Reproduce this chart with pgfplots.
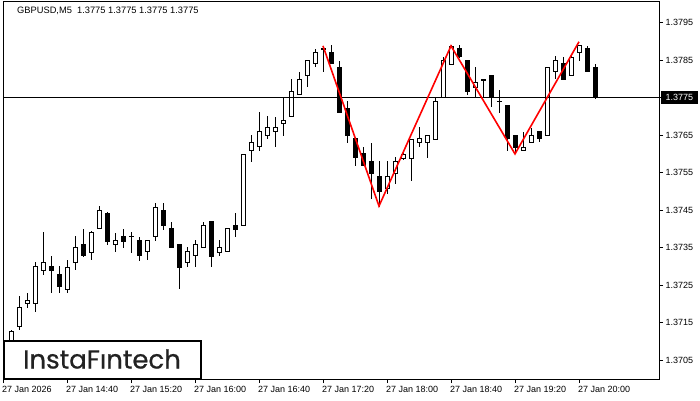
\documentclass[border=0pt]{standalone}
\usepackage{pgfplots}
\pgfplotsset{compat=1.18}
\usepackage{pgfplotstable}
\usepackage{fontspec}
\setmainfont{Liberation Sans}
\newfontfamily\logofont{Poppins}[FakeBold=0.6]
\definecolor{logogray}{HTML}{222222}

% bullish candles (close > open): x O H L C
\pgfplotstableread{
x O H L C
0 1.37085 1.37112 1.37070 1.37100
1 1.37085 1.37130 1.37075 1.37128
2 1.37141 1.37221 1.37130 1.37191
3 1.37202 1.37231 1.37191 1.37209
4 1.37201 1.37312 1.37179 1.37300
5 1.37289 1.37391 1.37277 1.37311
8 1.37240 1.37319 1.37229 1.37299
9 1.37311 1.37381 1.37290 1.37351
11 1.37339 1.37395 1.37317 1.37391
12 1.37401 1.37461 1.37400 1.37450
14 1.37359 1.37391 1.37339 1.37369
18 1.37340 1.37369 1.37317 1.37369
19 1.37381 1.37471 1.37368 1.37460
23 1.37311 1.37351 1.37299 1.37340
24 1.37329 1.37370 1.37299 1.37359
25 1.37351 1.37420 1.37351 1.37408
27 1.37340 1.37370 1.37328 1.37351
28 1.37340 1.37401 1.37340 1.37401
30 1.37409 1.37600 1.37409 1.37599
31 1.37609 1.37650 1.37579 1.37631
32 1.37620 1.37711 1.37608 1.37660
33 1.37649 1.37700 1.37640 1.37671
34 1.37660 1.37700 1.37619 1.37671
35 1.37681 1.37750 1.37647 1.37690
36 1.37700 1.37799 1.37700 1.37769
37 1.37758 1.37820 1.37758 1.37798
38 1.37809 1.37850 1.37779 1.37849
39 1.37841 1.37881 1.37831 1.37871
48 1.37510 1.37581 1.37495 1.37541
49 1.37549 1.37591 1.37519 1.37581
50 1.37590 1.37608 1.37583 1.37599
51 1.37590 1.37641 1.37527 1.37641
52 1.37631 1.37671 1.37619 1.37641
53 1.37631 1.37650 1.37590 1.37649
54 1.37641 1.37750 1.37641 1.37740
55 1.37752 1.37861 1.37752 1.37850
56 1.37841 1.37890 1.37841 1.37888
59 1.37779 1.37832 1.37750 1.37791
65 1.37609 1.37660 1.37609 1.37619
66 1.37631 1.37671 1.37631 1.37649
68 1.37649 1.37831 1.37649 1.37831
69 1.37820 1.37861 1.37801 1.37849
71 1.37809 1.37861 1.37809 1.37859
72 1.37871 1.37890 1.37848 1.37890
}\bull

% bearish candles (close <= open): x O H L C
\pgfplotstableread{
x O H L C
6 1.37300 1.37329 1.37229 1.37288
7 1.37279 1.37301 1.37231 1.37248
10 1.37359 1.37401 1.37326 1.37329
13 1.37441 1.37445 1.37359 1.37368
15 1.37381 1.37401 1.37350 1.37368
16 1.37380 1.37392 1.37338 1.37380
17 1.37370 1.37380 1.37317 1.37329
20 1.37449 1.37471 1.37400 1.37409
21 1.37401 1.37419 1.37351 1.37351
22 1.37359 1.37360 1.37240 1.37299
26 1.37420 1.37420 1.37299 1.37328
29 1.37409 1.37442 1.37379 1.37400
40 1.37881 1.37888 1.37819 1.37881
41 1.37871 1.37890 1.37841 1.37841
42 1.37831 1.37850 1.37711 1.37711
43 1.37722 1.37741 1.37630 1.37648
44 1.37642 1.37642 1.37568 1.37590
45 1.37600 1.37621 1.37568 1.37568
46 1.37581 1.37631 1.37481 1.37549
47 1.37541 1.37581 1.37459 1.37499
57 1.37881 1.37890 1.37855 1.37859
58 1.37850 1.37850 1.37758 1.37768
60 1.37798 1.37800 1.37750 1.37798
61 1.37809 1.37809 1.37727 1.37750
62 1.37741 1.37770 1.37710 1.37739
63 1.37729 1.37730 1.37608 1.37641
64 1.37649 1.37650 1.37600 1.37619
67 1.37660 1.37660 1.37631 1.37641
70 1.37841 1.37861 1.37798 1.37798
73 1.37881 1.37890 1.37820 1.37820
74 1.37831 1.37841 1.37748 1.37750
}\bear

\begin{document}
\begin{tikzpicture}[x=1pt,y=1pt]
\useasboundingbox (0,0) rectangle (700,400);
\begin{axis}[
  at={(3pt,21pt)}, anchor=south west,
  scale only axis, width=656pt, height=377pt,
  xmin=0, xmax=82, ymin=1.37, ymax=1.38005,
  axis line style={line width=1pt, black},
  tick align=outside, major tick length=4pt,
  tick style={line width=1pt, black},
  xtick pos=left, ytick pos=right, yticklabel pos=right,
  xtick={0,8,16,24,32,40,48,56,64,72},
  xticklabels={27 Jan 2026, 27 Jan 14:40, 27 Jan 15:20, 27 Jan 16:00, 27 Jan 16:40, 27 Jan 17:20, 27 Jan 18:00, 27 Jan 18:40, 27 Jan 19:20, 27 Jan 20:00},
  ytick={1.3705,1.3715,1.3725,1.3735,1.3745,1.3755,1.3765,1.3785,1.3795},
  yticklabels={1.3705,1.3715,1.3725,1.3735,1.3745,1.3755,1.3765,1.3785,1.3795},
  extra y ticks={1.3775}, extra y tick labels={1.3775},
  extra y tick style={yticklabel style={fill=black, text=white}},
  xticklabel style={font=\fontsize{9}{10}\selectfont, anchor=north west, inner sep=0pt, xshift=-1pt, yshift=-3pt},
  yticklabel style={font=\fontsize{9}{10}\selectfont, anchor=west, inner xsep=4.5pt, inner ysep=3pt, xshift=-2pt},
  clip=true,
]
% wicks
\addplot[draw=none, mark=none, forget plot, error bars/.cd, y dir=both, y explicit, error mark=none,
  error bar style={draw=black, line width=1pt}]
  table[x=x, y expr={(\thisrow{H}+\thisrow{L})/2}, y error expr={(\thisrow{H}-\thisrow{L})/2}] {\bull};
\addplot[draw=none, mark=none, forget plot, error bars/.cd, y dir=both, y explicit, error mark=none,
  error bar style={draw=black, line width=1pt}]
  table[x=x, y expr={(\thisrow{H}+\thisrow{L})/2}, y error expr={(\thisrow{H}-\thisrow{L})/2}] {\bear};
% bodies: black outline / fill
\addplot[draw=none, mark=none, forget plot, error bars/.cd, y dir=both, y explicit, error mark=none,
  error bar style={draw=black, line width=5pt}]
  table[x=x, y expr={(\thisrow{O}+\thisrow{C})/2}, y error expr={(\thisrow{C}-\thisrow{O})/2+0.0000133}] {\bull};
\addplot[draw=none, mark=none, forget plot, error bars/.cd, y dir=both, y explicit, error mark=none,
  error bar style={draw=black, line width=5pt}]
  table[x=x, y expr={(\thisrow{O}+\thisrow{C})/2}, y error expr={(\thisrow{O}-\thisrow{C})/2+0.0000133}] {\bear};
% white interior of bullish bodies
\addplot[draw=none, mark=none, forget plot, error bars/.cd, y dir=both, y explicit, error mark=none,
  error bar style={draw=white, line width=3pt}]
  table[x=x, y expr={(\thisrow{O}+\thisrow{C})/2}, y error expr={max((\thisrow{C}-\thisrow{O})/2-0.0000133,0)}] {\bull};
% current price line
\addplot[black, line width=1pt, forget plot] coordinates {(-2,1.3775) (90,1.3775)};
% triple top pattern
\addplot[red, line width=1.6pt, forget plot] coordinates {(40,1.37888) (47,1.37461) (56,1.37888) (64,1.37600) (72,1.37899)};
\end{axis}
\node[anchor=west, font=\fontsize{9.3}{10}\selectfont, inner sep=0pt] at (17,389) {GBPUSD,M5\ \ 1.3775 1.3775 1.3775 1.3775};
\draw[line width=2pt, fill=white] (3.5,21.5) rectangle (200.8,59.3);
\node[font=\logofont\fontsize{26}{28}\selectfont, text=logogray, inner sep=0pt] at (102,41) {InstaFıntech};
\end{tikzpicture}
\end{document}
